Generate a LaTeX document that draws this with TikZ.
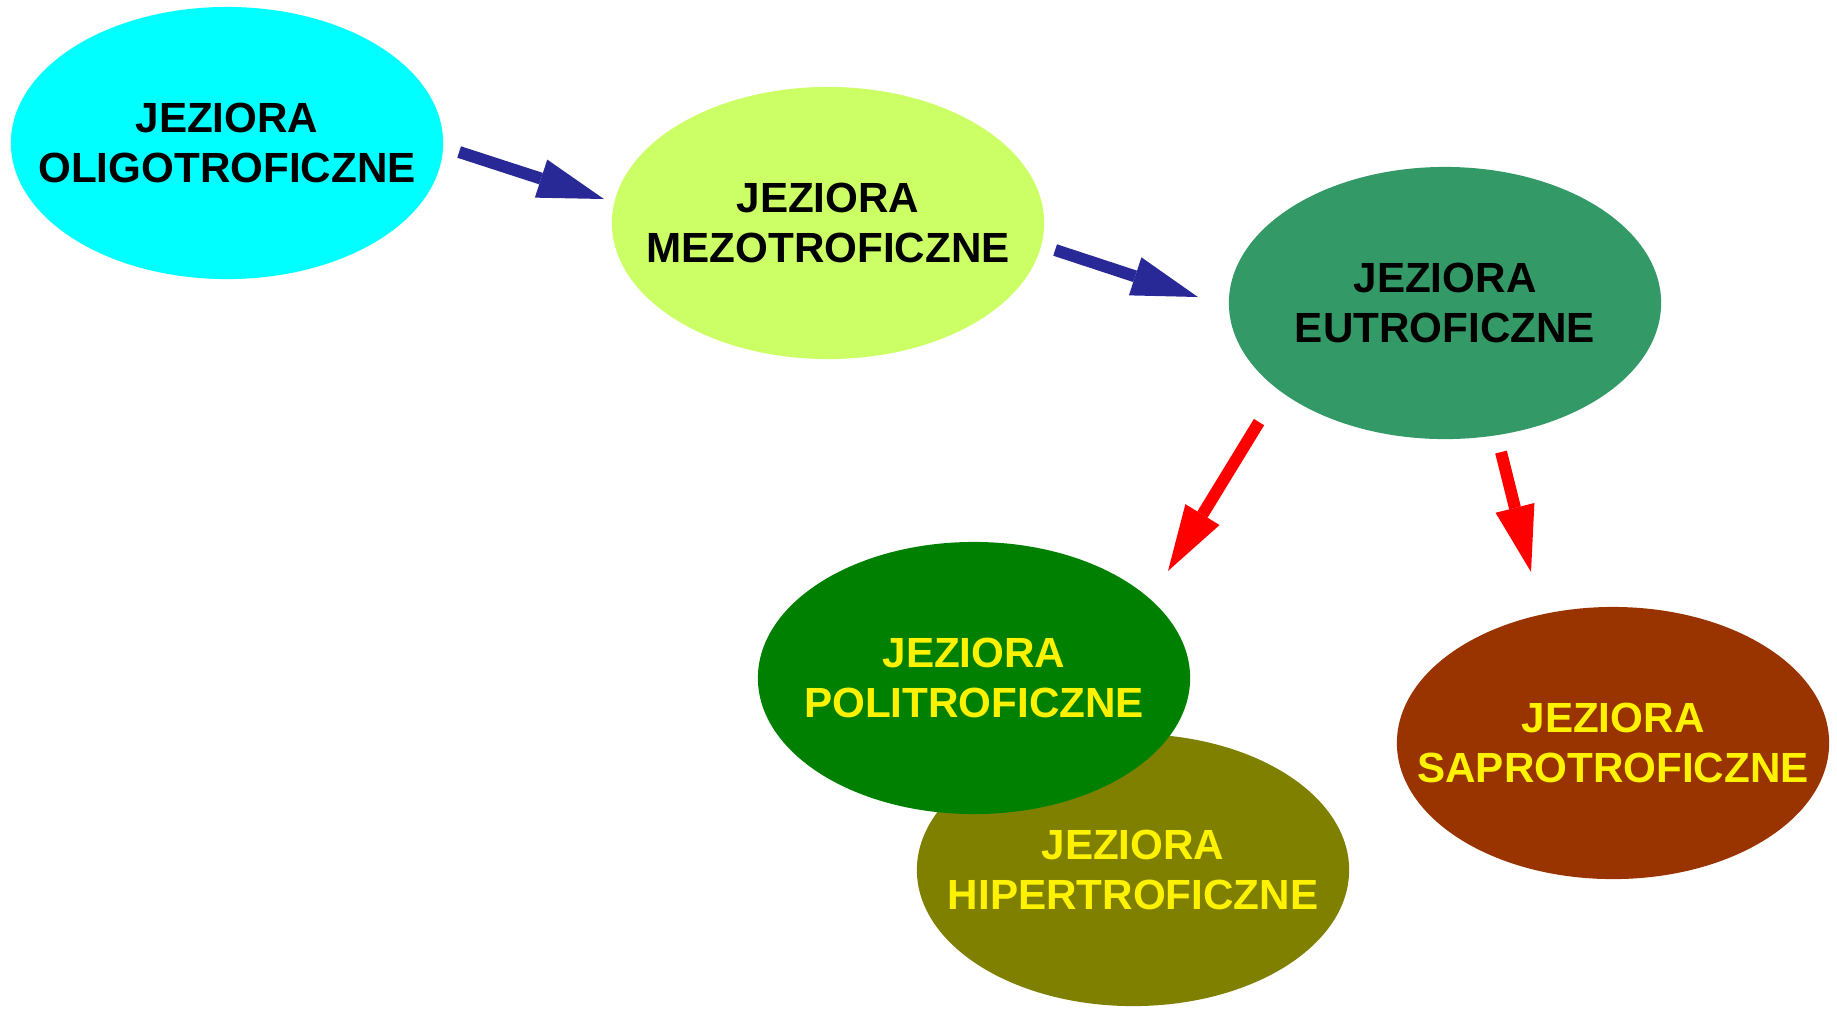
\documentclass[tikz,border=0pt]{standalone}
\usepackage{fontspec}
\setmainfont{Liberation Sans}
\usepackage{tikz}
\usetikzlibrary{shapes.geometric,arrows.meta,calc}

\definecolor{oligoc}{RGB}{0,255,255}
\definecolor{mezoc}{RGB}{204,255,102}
\definecolor{eutroc}{RGB}{51,153,102}
\definecolor{polic}{RGB}{0,128,0}
\definecolor{hiperc}{RGB}{128,128,0}
\definecolor{saproc}{RGB}{153,51,0}
\definecolor{flowblue}{RGB}{40,40,150}

\tikzset{
    lake/.style={ellipse, minimum width=4.32cm, minimum height=2.72cm,
        inner sep=0pt, outer sep=0pt},
    laketxt/.style={align=center, font=\fontsize{12}{14.2}\selectfont\bfseries},
    flow/.style={line width=0.12cm,
        -{Triangle[length=0.66cm,width=0.40cm,line width=0pt]}},
}

\begin{document}
\begin{tikzpicture}[x=0.01cm, y=-0.01cm]
    \useasboundingbox (0,0) rectangle (1837,1008);
    \node (oligo) [lake, fill=oligoc,
        label={[laketxt]center:JEZIORA\\OLIGOTROFICZNE}] at (227,143) {};
    \node (mezo) [lake, fill=mezoc,
        label={[laketxt]center:JEZIORA\\MEZOTROFICZNE}] at (828,223) {};
    \node (eutro) [lake, fill=eutroc,
        label={[laketxt]center:JEZIORA\\EUTROFICZNE}] at (1445,303) {};
    \node (hiper) [lake, fill=hiperc,
        label={[laketxt, text=yellow]center:JEZIORA\\HIPERTROFICZNE}] at (1133,870) {};
    \node (poli) [lake, fill=polic,
        label={[laketxt, text=yellow]center:JEZIORA\\POLITROFICZNE}] at (974,678) {};
    \node (sapro) [lake, fill=saproc,
        label={[laketxt, text=yellow]center:JEZIORA\\SAPROTROFICZNE}] at (1613,743) {};

    % arrow ends
    \coordinate (om-s) at ($(oligo.east)+(16,9)$);
    \coordinate (om-e) at ($(mezo.west)+(-8,-24)$);
    \coordinate (me-s) at ($(mezo.east)+(11,27)$);
    \coordinate (me-e) at ($(eutro.west)+(-31,-6)$);
    \coordinate (ep-s) at ($(eutro.south)+(-186,-17)$);
    \coordinate (ep-e) at ($(poli.north)+(194,29)$);
    \coordinate (es-s) at ($(eutro.south)+(56,13)$);
    \coordinate (es-e) at ($(sapro.north)+(-82,-35)$);

    \draw[flow, flowblue] (om-s) -- (om-e);
    \draw[flow, flowblue] (me-s) -- (me-e);
    \draw[flow, red] (ep-s) -- (ep-e);
    \draw[flow, red] (es-s) -- (es-e);
\end{tikzpicture}
\end{document}
